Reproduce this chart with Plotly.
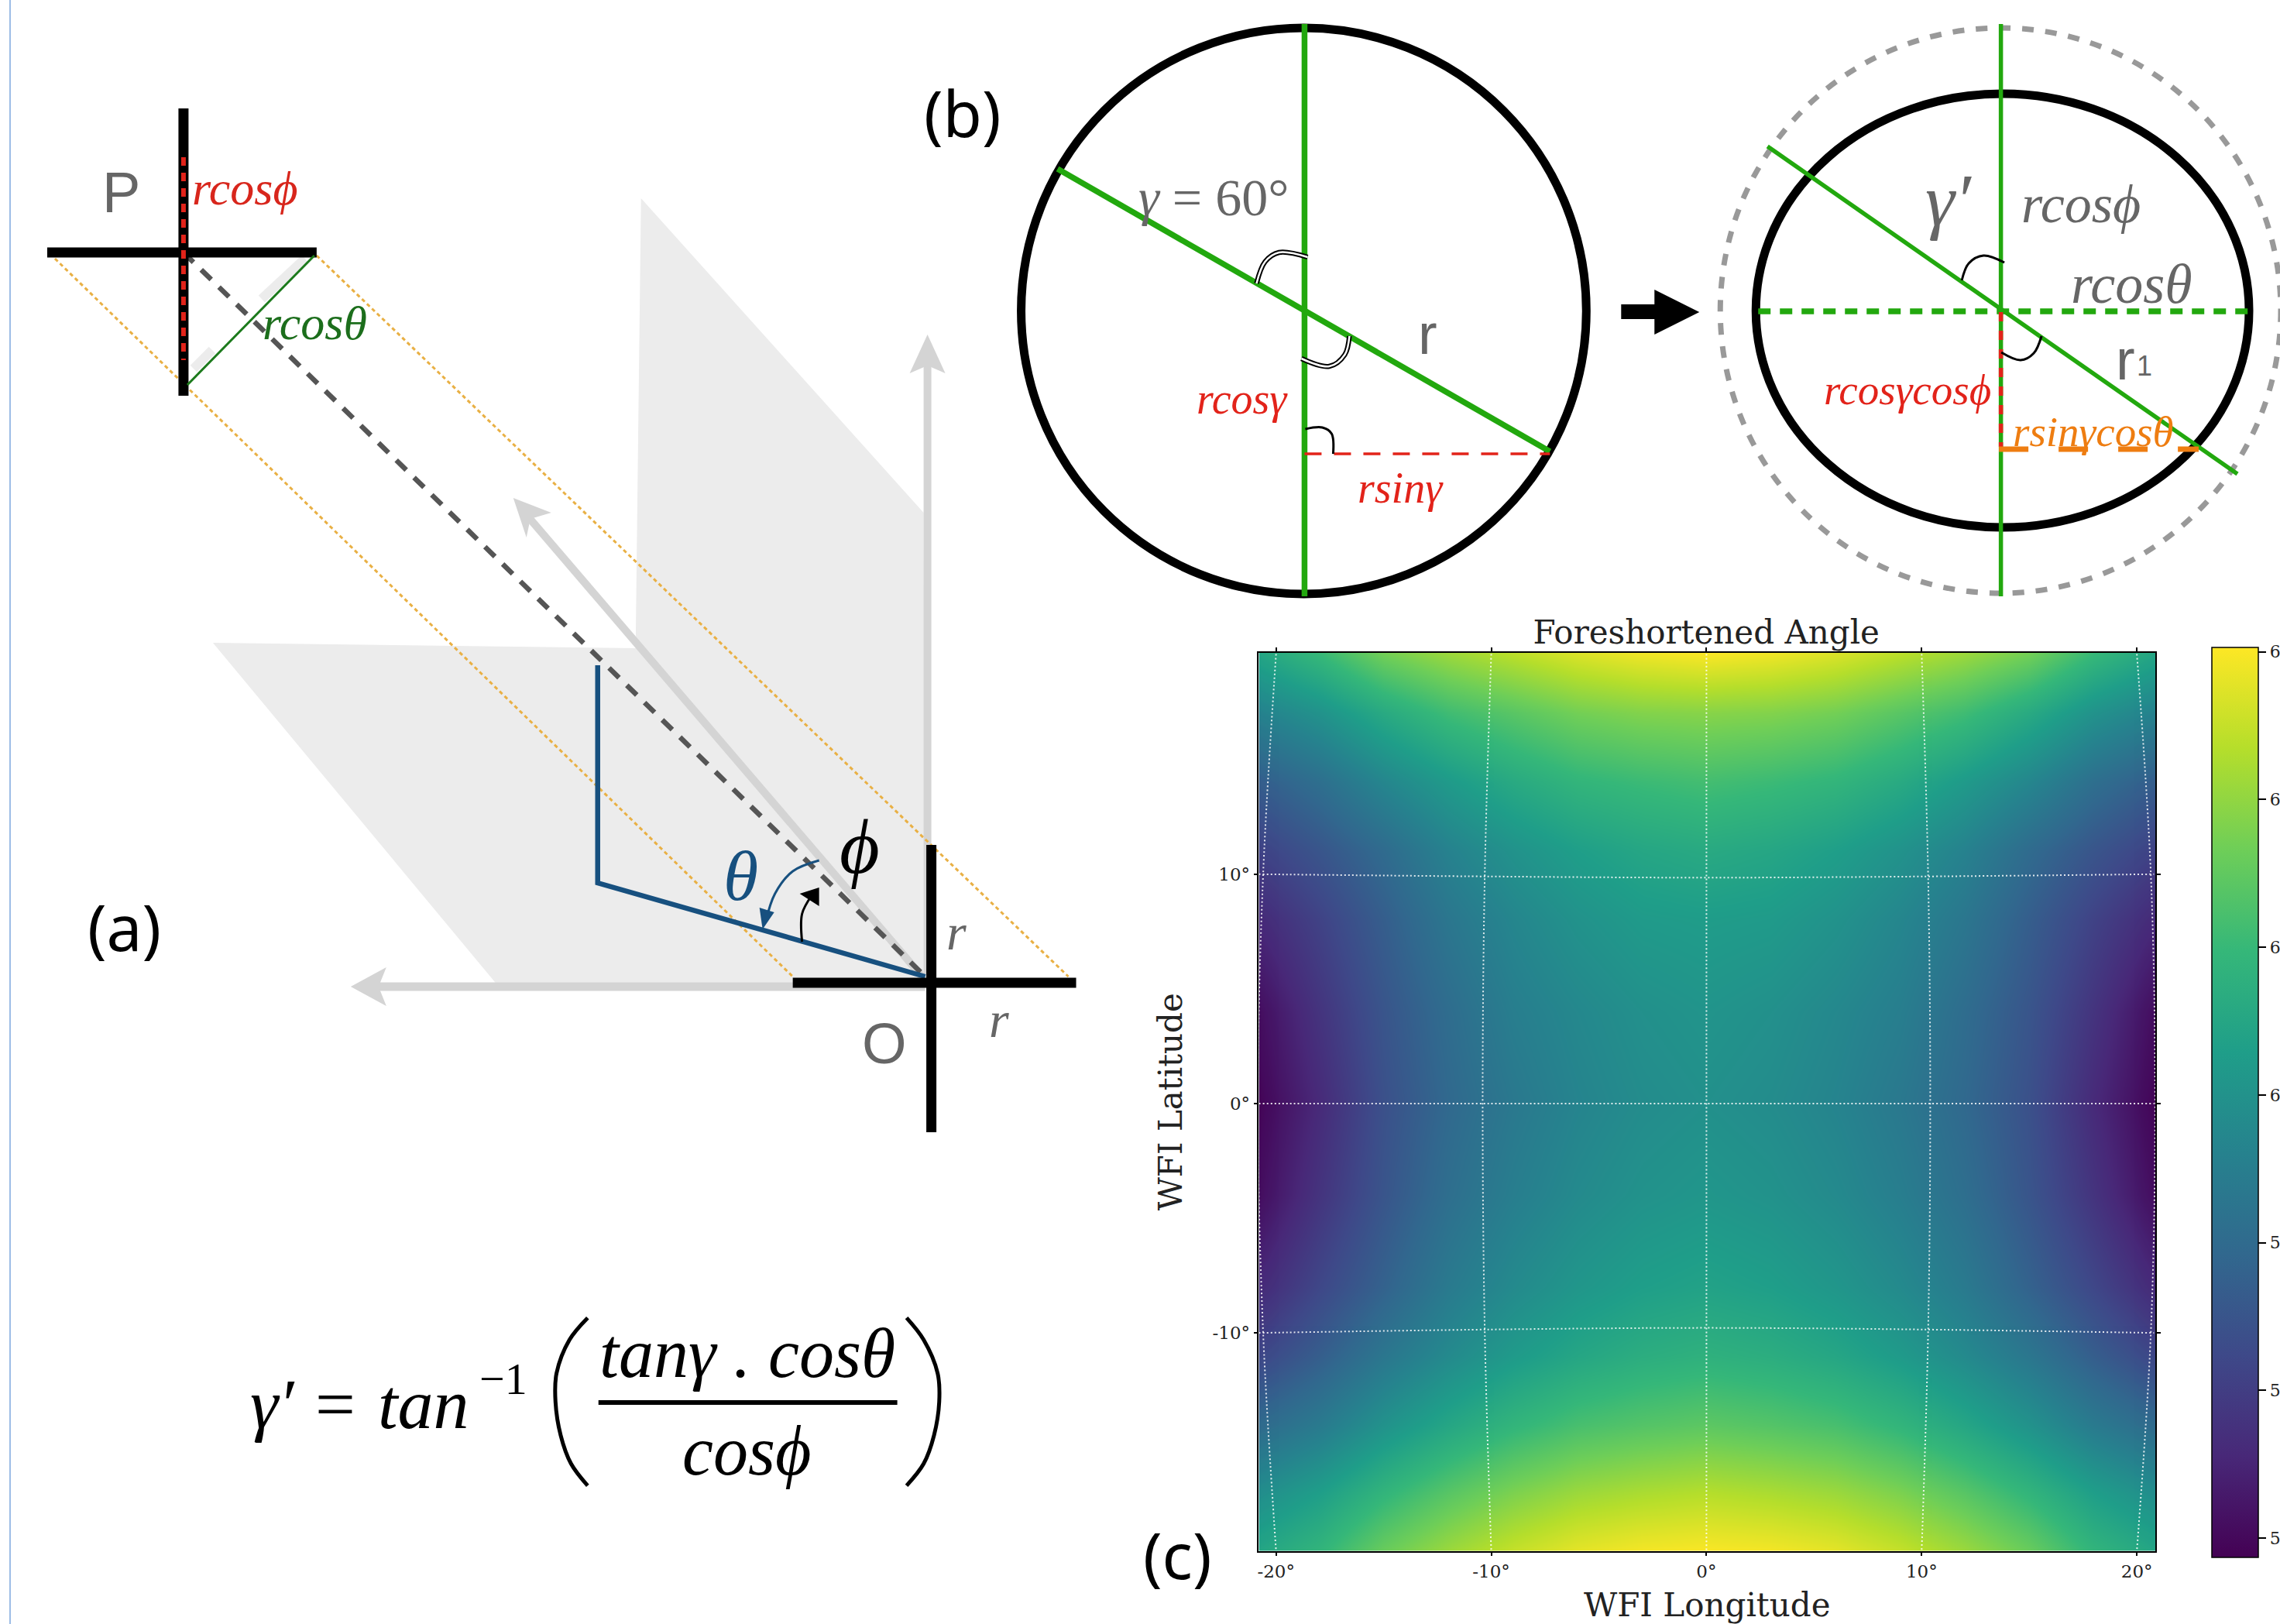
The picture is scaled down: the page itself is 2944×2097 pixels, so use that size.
import plotly.graph_objects as go

W, H = 2944, 2097
PAGE_W = 2960  # the page is laid out 16 px wider than the picture and squeezed to fit

# ---------- panel (c) data ----------
lon = [-20.8, -18, -15, -12, -9, -6, -3, 0, 3, 6, 9, 12, 15, 18, 20.8]
lat = [19.6, 17, 14, 11, 8, 4, 0, -4, -8, -11, -14, -17, -19.5]
angle = [
    [60.5, 61.0, 61.7, 62.1, 62.4, 62.7, 62.9, 63.0, 62.9, 62.7, 62.4, 62.1, 61.7, 61.0, 60.5],
    [59.6, 60.0, 60.6, 61.1, 61.4, 61.7, 61.85, 61.9, 61.85, 61.7, 61.4, 61.1, 60.6, 60.0, 59.6],
    [58.7, 59.1, 59.7, 60.2, 60.6, 60.9, 61.05, 61.15, 61.05, 60.9, 60.6, 60.2, 59.7, 59.1, 58.7],
    [58.1, 58.5, 59.0, 59.6, 60.0, 60.3, 60.5, 60.6, 60.5, 60.3, 60.0, 59.6, 59.0, 58.5, 58.1],
    [57.6, 58.1, 58.7, 59.3, 59.7, 60.0, 60.2, 60.25, 60.2, 60.0, 59.7, 59.3, 58.7, 58.1, 57.6],
    [57.1, 57.8, 58.5, 59.05, 59.5, 59.75, 59.95, 60.05, 59.95, 59.75, 59.5, 59.05, 58.5, 57.8, 57.1],
    [56.95, 57.6, 58.4, 58.95, 59.35, 59.65, 59.85, 59.95, 59.85, 59.65, 59.35, 58.95, 58.4, 57.6, 56.95],
    [57.1, 57.8, 58.5, 59.1, 59.5, 59.8, 60.0, 60.1, 60.0, 59.8, 59.5, 59.1, 58.5, 57.8, 57.1],
    [57.6, 58.2, 58.8, 59.4, 59.8, 60.1, 60.3, 60.4, 60.3, 60.1, 59.8, 59.4, 58.8, 58.2, 57.6],
    [58.2, 58.7, 59.3, 59.8, 60.2, 60.5, 60.7, 60.8, 60.7, 60.5, 60.2, 59.8, 59.3, 58.7, 58.2],
    [59.0, 59.4, 60.0, 60.5, 60.9, 61.2, 61.35, 61.45, 61.35, 61.2, 60.9, 60.5, 60.0, 59.4, 59.0],
    [59.9, 60.3, 60.9, 61.4, 61.8, 62.1, 62.25, 62.35, 62.25, 62.1, 61.8, 61.4, 60.9, 60.3, 59.9],
    [60.5, 60.9, 61.6, 62.1, 62.5, 62.8, 62.95, 63.0, 62.95, 62.8, 62.5, 62.1, 61.6, 60.9, 60.5],
]
lon_ticks = [-20, -10, 0, 10, 20]
lon_labels = ["-20°", "-10°", "0°", "10°", "20°"]
lat_ticks = [-10, 0, 10]
lat_labels = ["-10°", "0°", "10°"]
cbar_ticks = [57, 58, 59, 60, 61, 62, 63]

grid_lat_along = [19.6, 10, 0, -10, -19.5]
grid_lon_lines = {
    -20: [-20, -20.6, -20.85, -20.6, -20],
    -10: [-10, -10.3, -10.4, -10.3, -10],
    0: [0, 0, 0, 0, 0],
    10: [10, 10.3, 10.4, 10.3, 10],
    20: [20, 20.65, 20.85, 20.65, 20],
}
grid_lon_along = [-20.8, -10, 0, 10, 20.8]
grid_lat_lines = {
    10: [10, 9.9, 9.85, 9.9, 10],
    0: [0, 0, 0, 0, 0],
    -10: [-10, -9.85, -9.78, -9.85, -10],
}

# ---------- panel (a) geometry ----------
plane_x = [273, 819, 826, 1191, 1193, 638]
plane_y = [830, 837, 256, 662, 1269, 1269]
up_shaft_x, up_shaft_y = [1196, 1196], [1269, 470]
up_head_x, up_head_y = [1196, 1219, 1196, 1173], [432, 482, 472, 482]
left_shaft_x, left_shaft_y = [1193, 480], [1274, 1274]
left_head_x, left_head_y = [451, 497, 487, 497], [1274, 1249, 1274, 1299]
diag_shaft_x, diag_shaft_y = [1189, 680], [1261, 667]
diag_head_x, diag_head_y = [661, 710, 683, 678], [643, 662, 670, 694]
orange_a_x, orange_a_y = [407, 1378], [330, 1261]
orange_b_x, orange_b_y = [69, 1022], [334, 1261]
view_x, view_y = [235, 1193], [326, 1261]
blue_x, blue_y = [770, 770, 1193], [859, 1140, 1261]
theta_arc_x, theta_arc_y = [1056, 1022, 999, 987], [1111, 1125, 1154, 1190]
theta_head_x, theta_head_y = [983, 979, 998], [1200, 1172, 1178]
phi_arc_x, phi_arc_y = [1034, 1034, 1046], [1216, 1180, 1157]
phi_head_x, phi_head_y = [1056, 1031, 1056], [1146, 1154, 1170]
p_v_x, p_v_y = [235, 235], [140, 511]
p_h_x, p_h_y = [59, 407], [326, 326]
p_red_x, p_red_y = [235, 235], [203, 465]
p_green_x, p_green_y = [240, 404], [497, 330]
shade_a_x, shade_a_y = [336, 392], [386, 334]
shade_b_x, shade_b_y = [248, 272], [476, 452]
o_v_x, o_v_y = [1201, 1201], [1091, 1462]
o_h_x, o_h_y = [1022, 1388], [1269, 1269]
border_x, border_y = [11, 11], [0, 2097]

# ---------- panel (b) geometry ----------
circle_l = [1317, 36, 2047, 767]
dash_circle = [2220, 36, 2944, 766]
ellipse_r = [2266, 121, 2903, 681]
l_vert_x, l_vert_y = [1683, 1683], [31, 770]
l_diag_x, l_diag_y = [1364, 2000], [218, 583]
l_red_x, l_red_y = [1683, 2000], [586, 586]
l_arc1_x, l_arc1_y = [1621, 1632, 1650, 1687], [366, 338, 326, 332]
l_arc2_x, l_arc2_y = [1741, 1735, 1715, 1679], [434, 458, 473, 463]
l_arc3_x, l_arc3_y = [1684, 1706, 1718, 1720], [554, 552, 560, 586]
block_x = [2092, 2135, 2135, 2193, 2135, 2135, 2092]
block_y = [393, 393, 374, 403, 432, 412, 412]
r_vert_x, r_vert_y = [2582.5, 2582.5], [31, 770]
r_diag_x, r_diag_y = [2281, 2888], [189, 612]
r_hdash_x, r_hdash_y = [2269, 2902], [402, 402]
r_red_x, r_red_y = [2582.5, 2582.5], [403, 577]
r_orange_x, r_orange_y = [2580, 2838], [580, 580]
r_arc1_x, r_arc1_y = [2532, 2541, 2560, 2587], [362, 340, 330, 339]
r_arc2_x, r_arc2_y = [2635, 2625, 2608, 2583], [434, 456, 465, 455]

# ---------- formula geometry ----------
paren_l_x, paren_l_y = [757, 722, 697, 695, 705, 725, 757], [155, 240, 370, 480, 610, 720, 805]
paren_r_x, paren_r_y = [1372, 1405, 1432, 1435, 1425, 1405, 1372], [155, 240, 370, 480, 610, 720, 805]
fbar_x, fbar_y = [771, 1157], [1811, 1811]

GREEN = "#22a80e"
RED = "#e2231a"
ORANGE = "#ee7d11"
GRAY = "#d4d4d4"
TXT = "#666666"
BLUE = "#17507f"
SERIF = "Liberation Serif, Times New Roman, Times, serif"
SANS = "Liberation Sans, Arial, sans-serif"

fig = go.Figure()


def line(xs, ys, color="black", width=2, dash=None, spline=False, opacity=1):
    fig.add_trace(go.Scatter(
        x=xs, y=ys, mode="lines", opacity=opacity, hoverinfo="skip", showlegend=False,
        line=dict(color=color, width=width, dash=dash, shape="spline" if spline else "linear"),
        xaxis="x", yaxis="y"))


def poly(xs, ys, color):
    fig.add_trace(go.Scatter(
        x=xs, y=ys, mode="lines", fill="toself", fillcolor=color, hoverinfo="skip",
        showlegend=False, line=dict(color=color, width=0), xaxis="x", yaxis="y"))


anns = []


def text(x, y, s, size, color="black", font=SERIF, italic=False):
    anns.append(dict(
        x=x, y=y, xref="x", yref="y", text=f"<i>{s}</i>" if italic else s, showarrow=False,
        xanchor="center", yanchor="middle", font=dict(family=font, size=size, color=color)))


# panel (a)
line(border_x, border_y, "#9dbde6", 2)
poly(plane_x, plane_y, "#ececec")
line(up_shaft_x, up_shaft_y, GRAY, 10)
poly(up_head_x, up_head_y, GRAY)
line(left_shaft_x, left_shaft_y, GRAY, 11)
poly(left_head_x, left_head_y, GRAY)
line(diag_shaft_x, diag_shaft_y, GRAY, 10)
poly(diag_head_x, diag_head_y, GRAY)
line(shade_a_x, shade_a_y, "#888888", 12, opacity=0.15)
line(shade_b_x, shade_b_y, "#888888", 12, opacity=0.15)
line(orange_a_x, orange_a_y, "#e9b044", 3, "5px,4px")
line(orange_b_x, orange_b_y, "#e9b044", 3, "5px,4px")
line(view_x, view_y, "#555555", 6.5, "18px,14px")
line(blue_x, blue_y, BLUE, 6.5)
line(theta_arc_x, theta_arc_y, BLUE, 3, spline=True)
poly(theta_head_x, theta_head_y, BLUE)
line(phi_arc_x, phi_arc_y, "black", 3, spline=True)
poly(phi_head_x, phi_head_y, "black")
line(p_v_x, p_v_y, "black", 13)
line(p_h_x, p_h_y, "black", 13)
line(p_red_x, p_red_y, RED, 6, "11px,9px")
line(p_green_x, p_green_y, "#1c7a1c", 3)
line(o_v_x, o_v_y, "black", 13)
line(o_h_x, o_h_y, "black", 13)
text(155, 248, "P", 74, TXT, SANS)
text(315, 243, "rcosϕ", 62, "#d8261c", SERIF, True)
text(405, 417, "rcosθ", 62, "#1c6e1c", SERIF, True)
text(955, 1131, "θ", 92, BLUE, SERIF, True)
text(1108, 1093, "ϕ", 100, "black", SERIF, True)
text(1233, 1203, "r", 66, TXT, SERIF, True)
text(1288, 1316, "r", 66, TXT, SERIF, True)
text(1140, 1347, "O", 74, TXT, SANS)
text(159, 1196, "(a)", 82, "black", "Noto Sans")

# panel (b)
line(l_vert_x, l_vert_y, GREEN, 7.5)
line(l_diag_x, l_diag_y, GREEN, 7.5)
line(l_red_x, l_red_y, RED, 3.5, "22px,16px")
line(l_arc1_x, l_arc1_y, "black", 6.5, spline=True)
line(l_arc1_x, l_arc1_y, "white", 2.5, spline=True)
line(l_arc2_x, l_arc2_y, "black", 6.5, spline=True)
line(l_arc2_x, l_arc2_y, "white", 2.5, spline=True)
line(l_arc3_x, l_arc3_y, "black", 3, spline=True)
poly(block_x, block_y, "black")
line(r_vert_x, r_vert_y, GREEN, 5.5)
line(r_diag_x, r_diag_y, GREEN, 5.5)
line(r_hdash_x, r_hdash_y, GREEN, 7.5, "16px,12px")
line(r_red_x, r_red_y, RED, 5.5, "12px,12px")
line(r_orange_x, r_orange_y, ORANGE, 7, "38px,39px")
line(r_arc1_x, r_arc1_y, "black", 3, spline=True)
line(r_arc2_x, r_arc2_y, "black", 3, spline=True)
text(1566, 255, "<i>γ</i> = 60°", 68, TXT, SERIF)
text(1842, 431, "r", 74, TXT, SANS)
text(1603, 515, "rcosγ", 56, "#e2231a", SERIF, True)
text(1807, 630, "rsinγ", 56, "#e2231a", SERIF, True)
text(2515, 258, "γ′", 96, TXT, SERIF, True)
text(2686, 263, "rcosϕ", 70, TXT, SERIF, True)
text(2751, 367, "rcosθ", 72, TXT, SERIF, True)
text(2743, 464, "r", 74, TXT, SANS)
text(2768, 472, "1", 36, TXT, SANS)
text(2462, 503, "rcosγcosϕ", 55, "#e2231a", SERIF, True)
text(2702, 557, "rsinγcosθ", 55, ORANGE, SERIF, True)
text(1241, 145, "(b)", 82, "black", "Noto Sans")
text(1519, 2007, "(c)", 82, "black", "Noto Sans")

# formula
fx = lambda v: [250 + a / 1.493 for a in v]
fy = lambda v: [1650 + a / 3 for a in v]
line(fx(paren_l_x), fy(paren_l_y), "black", 5, spline=True)
line(fx(paren_r_x), fy(paren_r_y), "black", 5, spline=True)
line(fbar_x, fbar_y, "black", 6)
text(350, 1813, "γ′", 92, "black", SERIF, True)
text(431, 1813, "=", 92, "black", SERIF)
text(545, 1813, "tan", 92, "black", SERIF, True)
text(648, 1780, "−1", 58, "black", SERIF)
text(963, 1747, "tanγ . cosθ", 90, "black", SERIF, True)
text(963, 1873, "cosϕ", 90, "black", SERIF, True)

# panel (c)
fig.add_trace(go.Heatmap(
    x=lon, y=lat, z=angle, colorscale="Viridis", zmin=56.87, zmax=63.03, zsmooth="best",
    xaxis="x2", yaxis="y2", hoverinfo="skip",
    colorbar=dict(
        x=2855 / W, xanchor="left", xpad=0, ypad=0, thickness=60, thicknessmode="pixels",
        y=1 - 836 / H, yanchor="top", len=(2011 - 836) / H, lenmode="fraction",
        outlinecolor="black", outlinewidth=1.5, tickmode="array", tickvals=cbar_ticks,
        ticks="outside", ticklen=10, tickwidth=1.5, tickcolor="black",
        tickfont=dict(family="DejaVu Serif", size=22, color="#222222"))))
for k, xs in grid_lon_lines.items():
    fig.add_trace(go.Scatter(x=xs, y=grid_lat_along, mode="lines", hoverinfo="skip", showlegend=False,
                             xaxis="x2", yaxis="y2", opacity=0.85,
                             line=dict(color="white", width=2, dash="2px,3px", shape="spline")))
for k, ys in grid_lat_lines.items():
    fig.add_trace(go.Scatter(x=grid_lon_along, y=ys, mode="lines", hoverinfo="skip", showlegend=False,
                             xaxis="x2", yaxis="y2", opacity=0.85,
                             line=dict(color="white", width=2, dash="2px,3px", shape="spline")))

hidden = dict(visible=False, showgrid=False, zeroline=False, fixedrange=True)
tick_font = dict(family="DejaVu Serif", size=23, color="#222222")
title_font = dict(family="DejaVu Serif", size=42, color="#222222")
fig.update_layout(
    width=PAGE_W, height=H, autosize=False, paper_bgcolor="white", plot_bgcolor="rgba(0,0,0,0)",
    margin=dict(l=0, r=0, t=0, b=0), showlegend=False,
    title=dict(text="Foreshortened Angle", x=2202 / W, y=1 - 816 / H, xanchor="center", yanchor="middle",
               xref="paper", yref="paper", font=title_font),
    xaxis=dict(domain=[0, 1], range=[0, W], **hidden),
    yaxis=dict(domain=[0, 1], range=[H, 0], **hidden),
    xaxis2=dict(domain=[1624 / W, 2782 / W], range=[-20.8, 20.86], anchor="y2",
                tickvals=lon_ticks, ticktext=lon_labels, ticks="outside", ticklen=5, tickwidth=1.5,
                tickcolor="black", mirror="allticks", showline=True, linecolor="black", linewidth=1.5,
                showgrid=False, zeroline=False, tickfont=tick_font,
                title=dict(text="WFI Longitude", font=title_font, standoff=23)),
    yaxis2=dict(domain=[1 - 2002.5 / H, 1 - 843 / H], range=[-19.5, 19.65], anchor="x2",
                tickvals=lat_ticks, ticktext=lat_labels, ticks="outside", ticklen=5, tickwidth=1.5,
                tickcolor="black", mirror="allticks", showline=True, linecolor="black", linewidth=1.5,
                showgrid=False, zeroline=False, tickfont=tick_font,
                title=dict(text="WFI Latitude", font=title_font, standoff=26)),
    annotations=anns,
    shapes=[
        dict(type="circle", xref="x", yref="y", x0=circle_l[0], y0=circle_l[1], x1=circle_l[2], y1=circle_l[3],
             line=dict(color="black", width=11), layer="below"),
        dict(type="circle", xref="x", yref="y", x0=dash_circle[0], y0=dash_circle[1], x1=dash_circle[2], y1=dash_circle[3],
             line=dict(color="#999999", width=7, dash="15px,15px"), layer="below"),
        dict(type="circle", xref="x", yref="y", x0=ellipse_r[0], y0=ellipse_r[1], x1=ellipse_r[2], y1=ellipse_r[3],
             line=dict(color="black", width=11), layer="below"),
    ],
)
page_css = ("var s=document.createElement('style');"
            "s.textContent='html,body{margin:0!important;padding:0!important;overflow:hidden}';"
            "document.head.appendChild(s);")
fig.write_html("out.html", post_script=page_css, config={"displayModeBar": False, "responsive": False})
